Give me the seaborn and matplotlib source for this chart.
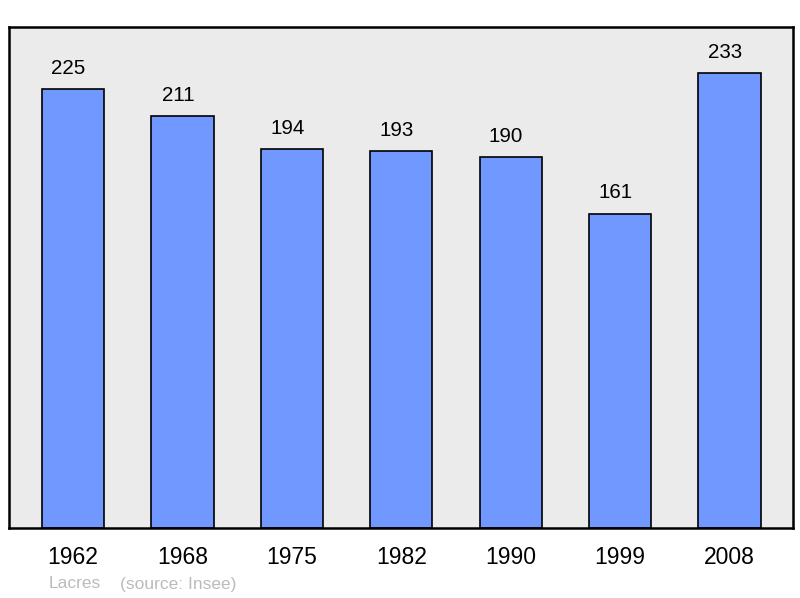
import matplotlib
matplotlib.use("Agg")
import matplotlib.pyplot as plt
import seaborn as sns
import pandas as pd

years = ["1962", "1968", "1975", "1982", "1990", "1999", "2008"]
population = [225, 211, 194, 193, 190, 161, 233]
commune = "Lacres"
source = "(source: Insee)"

sns.set_style("white")
plt.rcParams['font.family'] = ['Liberation Sans', 'DejaVu Sans']

df = pd.DataFrame({"year": years, "pop": population})

fig = plt.figure(figsize=(8, 5.98), dpi=100)
ax = fig.add_axes([9 / 800, 1 - 528 / 598, 784 / 800, 501 / 598])
ax.set_facecolor("#ebebeb")

sns.barplot(data=df, x="year", y="pop", color="#7098ff", saturation=1,
            width=0.57, edgecolor="black", linewidth=1.2, ax=ax)

# value labels above bars (slightly left of centre, like the original)
for i, v in enumerate(population):
    ax.annotate(str(v), (i, v), xytext=(-3.3, 15), textcoords="offset points",
                ha="center", va="center", fontsize=14.8, color="black")

ax.set_xlim(-0.585, 6.58)
ax.set_ylim(0, 256.7)
ax.set_yticks([])
ax.set_xlabel("")
ax.set_ylabel("")
ax.tick_params(axis="x", length=0, pad=13, labelsize=16.5, colors="black")
for s in ax.spines.values():
    s.set_color("black")
    s.set_linewidth(1.8)
    s.set_visible(True)

fig.text(49 / 800, 1 - 584 / 598, commune, fontsize=12.5, color="#bbbbbb", va="center")
fig.text(120 / 800, 1 - 584 / 598, source, fontsize=12.5, color="#bbbbbb", va="center")

fig.savefig("out.png", dpi=100, facecolor="white")
